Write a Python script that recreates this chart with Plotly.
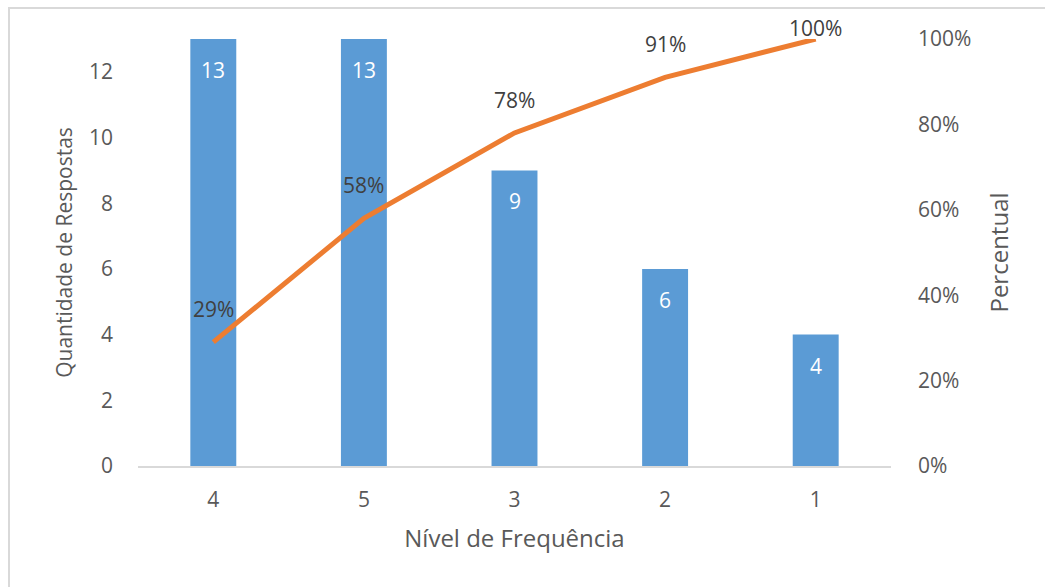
import plotly.graph_objects as go

# Pareto data: response count per frequency level, sorted descending
niveis = ["4", "5", "3", "2", "1"]
respostas = [13, 13, 9, 6, 4]
percentual_acumulado = [0.29, 0.58, 0.78, 0.91, 1.00]

W, H = 1045, 587
ML, MR, MT, MB = 138, 154, 39, 121

BAR_COLOR = "#5B9BD5"
LINE_COLOR = "#ED7D31"
TEXT_COLOR = "#595959"
LABEL_COLOR = "#404040"
FONT = "Open Sans"
TICK_SIZE = 21

pos = list(range(len(niveis)))

fig = go.Figure()

fig.add_trace(go.Bar(
    x=pos,
    y=respostas,
    width=0.305,
    marker=dict(color=BAR_COLOR, line=dict(width=0)),
    showlegend=False,
))

fig.add_trace(go.Scatter(
    x=pos,
    y=percentual_acumulado,
    yaxis="y2",
    mode="lines",
    line=dict(color=LINE_COLOR, width=5),
    showlegend=False,
))

annotations = []
# Count labels inside the top of each bar
for i, v in zip(pos, respostas):
    annotations.append(dict(
        x=i, y=v, xref="x", yref="y",
        text=str(v), showarrow=False,
        yanchor="top", yshift=-15,
        font=dict(family=FONT, size=TICK_SIZE, color="white"),
    ))
# Cumulative percentage labels above each line point
for i, p in zip(pos, percentual_acumulado):
    annotations.append(dict(
        x=i, y=p, xref="x", yref="y2",
        text=f"{round(p * 100)}%", showarrow=False,
        yshift=11 if p >= 1.0 else 33,
        font=dict(family=FONT, size=TICK_SIZE, color=LABEL_COLOR),
    ))

fig.update_layout(
    width=W, height=H,
    margin=dict(l=ML, r=MR, t=MT, b=MB),
    paper_bgcolor="white",
    plot_bgcolor="white",
    font=dict(family=FONT, size=TICK_SIZE, color=TEXT_COLOR),
    xaxis=dict(
        range=[-0.5, len(niveis) - 0.5],
        tickvals=pos,
        ticktext=niveis,
        showgrid=False,
        zeroline=False,
        showline=True,
        linecolor="#D9D9D9",
        linewidth=2,
        ticks="",
        ticklabelstandoff=14,
        tickfont=dict(family=FONT, size=TICK_SIZE, color=TEXT_COLOR),
        title=dict(text="Nível de Frequência",
                   font=dict(family=FONT, size=24, color=TEXT_COLOR),
                   standoff=18),
    ),
    yaxis=dict(
        range=[0, 13],
        tickvals=[0, 2, 4, 6, 8, 10, 12],
        showgrid=False,
        zeroline=False,
        showline=False,
        ticks="",
        ticklabelstandoff=24,
        tickfont=dict(family=FONT, size=TICK_SIZE, color=TEXT_COLOR),
        title=dict(text="Quantidade de Respostas",
                   font=dict(family=FONT, size=21, color=TEXT_COLOR),
                   standoff=10),
    ),
    yaxis2=dict(
        overlaying="y",
        side="right",
        range=[0, 1],
        tickvals=[0, 0.2, 0.4, 0.6, 0.8, 1.0],
        tickformat=".0%",
        showgrid=False,
        zeroline=False,
        showline=False,
        ticks="",
        ticklabelstandoff=26,
        tickfont=dict(family=FONT, size=TICK_SIZE, color=TEXT_COLOR),
        title=dict(text="Percentual",
                   font=dict(family=FONT, size=24, color=TEXT_COLOR),
                   standoff=20),
    ),
    annotations=annotations,
)

# Light chart-area frame
pw = W - ML - MR
ph = H - MT - MB
def px_x(v):
    return (v - ML) / pw
def px_y(v):
    return (H - MB - v) / ph

fig.add_shape(
    type="rect", xref="paper", yref="paper",
    x0=px_x(9), x1=px_x(W + 5), y0=px_y(H + 5), y1=px_y(8),
    line=dict(color="#D9D9D9", width=2),
    fillcolor="rgba(0,0,0,0)",
    layer="below",
)

fig.write_html("out.html")
